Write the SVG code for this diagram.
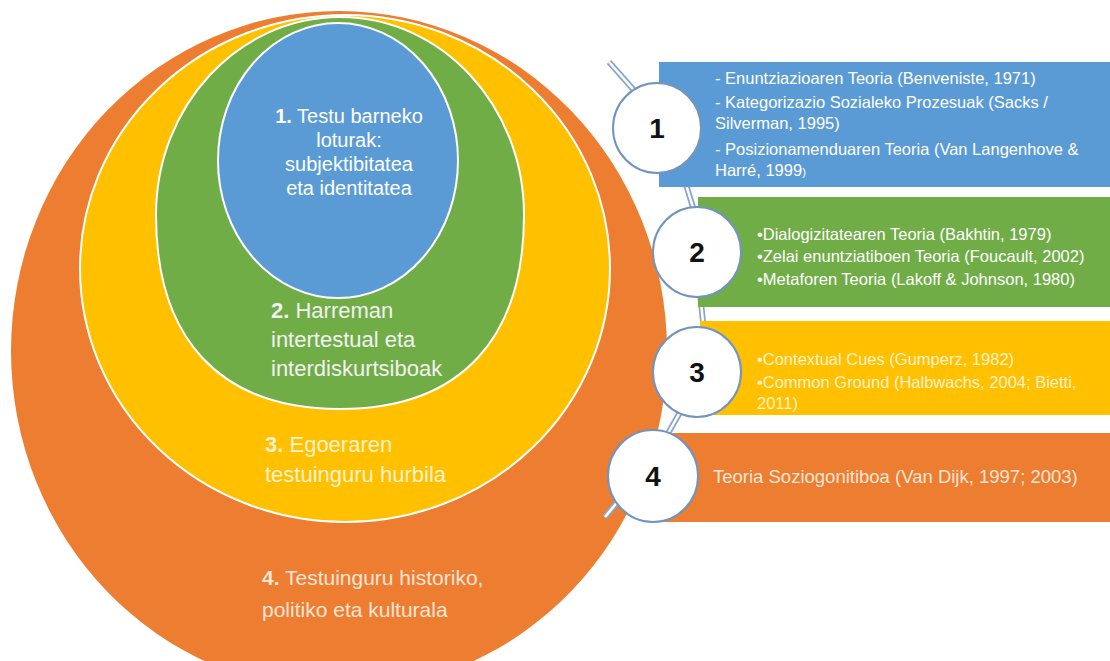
<svg xmlns="http://www.w3.org/2000/svg" width="1110" height="661" viewBox="0 0 1110 661">
<style>
  .ring { stroke: #ffffff; stroke-width: 2; }
  .big { font-family: "Liberation Sans", Arial, sans-serif; font-size: 21px; }
  .box { font-family: "Liberation Sans", Arial, sans-serif; font-size: 16.5px; }
  .num { font-family: "Liberation Sans", Arial, sans-serif; font-size: 28px; font-weight: bold; fill: #111111; text-anchor: middle; }
  .badge { fill: #ffffff; stroke: #7393bf; stroke-width: 2; }
  .lo { stroke: #8aa6cf; stroke-width: 6; stroke-linecap: butt; }
  .li { stroke: #ffffff; stroke-width: 2.5; stroke-linecap: butt; }
  .b { font-weight: bold; }
</style>
<rect width="1110" height="661" fill="#ffffff"/>

<g id="ring4">
  <ellipse cx="339" cy="351" rx="328" ry="340" fill="#ed7d31"/>
  <text class="big" x="262" y="585" fill="#fbe5d6"><tspan class="b">4.</tspan> Testuinguru historiko,</text>
  <text class="big" x="262" y="617" fill="#fbe5d6">politiko eta kulturala</text>
</g>
<g id="ring3">
  <ellipse class="ring" cx="345" cy="268.5" rx="265" ry="253.5" fill="#ffc000"/>
  <text class="big" x="265" y="452" fill="#fff2cc" style="font-size:22px"><tspan class="b">3.</tspan> Egoeraren</text>
  <text class="big" x="265" y="482" fill="#fff2cc" style="font-size:22px">testuinguru hurbila</text>
</g>
<g id="ring2">
  <path class="ring" d="M340,17 C441.6,17 524,105.6 524,215 C524,337 462,409 340,409 C218,409 156,337 156,215 C156,105.6 238.4,17 340,17 Z" fill="#70ad47"/>
  <text class="big" x="271" y="318" fill="#f2f2f2" style="font-size:22px"><tspan class="b">2.</tspan> Harreman</text>
  <text class="big" x="271" y="347" fill="#f2f2f2" style="font-size:22px">intertestual eta</text>
  <text class="big" x="271" y="376" fill="#f2f2f2" style="font-size:22px">interdiskurtsiboak</text>
</g>
<g id="ring1">
  <ellipse class="ring" cx="338" cy="160.5" rx="120" ry="137.5" fill="#5b9bd5"/>
  <g class="big" fill="#ffffff" text-anchor="middle" style="font-size:20px">
    <text x="349" y="123"><tspan class="b">1.</tspan> Testu barneko</text>
    <text x="349" y="147">loturak:</text>
    <text x="349" y="171">subjektibitatea</text>
    <text x="349" y="195">eta identitatea</text>
  </g>
</g>

<g id="connectors">
  <line class="lo" x1="609" y1="62" x2="640" y2="97"/>
  <line class="li" x1="609" y1="62" x2="640" y2="97"/>
  <line class="lo" x1="684" y1="178" x2="695" y2="214"/>
  <line class="li" x1="684" y1="178" x2="695" y2="214"/>
  <line class="lo" x1="700" y1="292" x2="704" y2="332"/>
  <line class="li" x1="700" y1="292" x2="704" y2="332"/>
  <line class="lo" x1="686" y1="402" x2="663" y2="442"/>
  <line class="li" x1="686" y1="402" x2="663" y2="442"/>
  <line class="lo" x1="624" y1="494" x2="605" y2="517"/>
  <line class="li" x1="624" y1="494" x2="605" y2="517"/>
</g>

<g id="panel1">
  <rect x="659" y="62" width="451" height="125" fill="#5b9bd5"/>
  <g class="box" fill="#ffffff">
    <text x="715" y="84">- Enuntziazioaren Teoria (Benveniste, 1971)</text>
    <text x="715" y="108">- Kategorizazio Sozialeko Prozesuak (Sacks /</text>
    <text x="715" y="129">Silverman, 1995)</text>
    <text x="715" y="155">- Posizionamenduaren Teoria (Van Langenhove &amp;</text>
    <text x="715" y="176">Harré, 1999<tspan style="font-size:11px">)</tspan></text>
  </g>
</g>
<g id="panel2">
  <rect x="698" y="197" width="412" height="110" fill="#70ad47"/>
  <g class="box" fill="#ffffff">
    <text x="757" y="240">•Dialogizitatearen Teoria (Bakhtin, 1979)</text>
    <text x="757" y="262">•Zelai enuntziatiboen Teoria (Foucault, 2002)</text>
    <text x="757" y="285">•Metaforen Teoria (Lakoff &amp; Johnson, 1980)</text>
  </g>
</g>
<g id="panel3">
  <rect x="700" y="321" width="410" height="94" fill="#ffc000"/>
  <g class="box" fill="#fff2cc">
    <text x="757" y="365">•Contextual Cues (Gumperz, 1982)</text>
    <text x="757" y="388">•Common Ground (Halbwachs, 2004; Bietti,</text>
    <text x="757" y="409">2011)</text>
  </g>
</g>
<g id="panel4">
  <rect x="660" y="433" width="450" height="89" fill="#ed7d31"/>
  <text class="box" x="713" y="483" fill="#fbe5d6" style="font-size:18.5px">Teoria Soziogonitiboa (Van Dijk, 1997; 2003)</text>
</g>

<g id="badge1">
  <ellipse class="badge" cx="657" cy="128" rx="44" ry="45"/>
  <text class="num" x="657" y="138">1</text>
</g>
<g id="badge2">
  <ellipse class="badge" cx="697" cy="252" rx="44" ry="45"/>
  <text class="num" x="697" y="262">2</text>
</g>
<g id="badge3">
  <ellipse class="badge" cx="697" cy="372" rx="44" ry="45"/>
  <text class="num" x="697" y="382">3</text>
</g>
<g id="badge4">
  <ellipse class="badge" cx="653" cy="476" rx="45" ry="46"/>
  <text class="num" x="653" y="486">4</text>
</g>
</svg>
